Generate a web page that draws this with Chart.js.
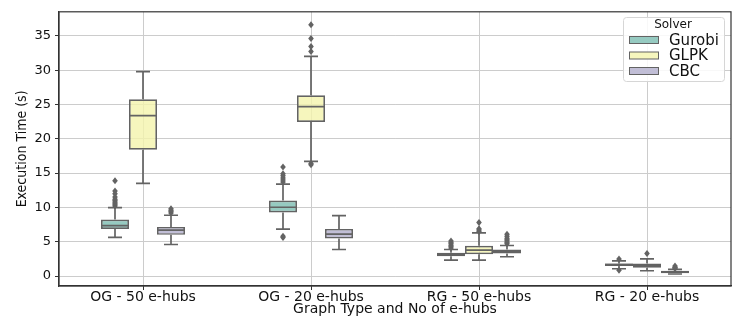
<!DOCTYPE html>
<html>
<head>
<meta charset="utf-8">
<script src="https://cdn.jsdelivr.net/npm/chart.js@4.4.0/dist/chart.umd.min.js"></script>
<style>
html,body{margin:0;padding:0;background:#fff;}
canvas{display:block;}
</style>
</head>
<body>
<canvas id="c" width="747" height="327"></canvas>
<script>
// ---- data ----
const categories = ['OG - 50 e-hubs', 'OG - 20 e-hubs', 'RG - 50 e-hubs', 'RG - 20 e-hubs'];
const solvers = ['Gurobi', 'GLPK', 'CBC'];
const yTicks = [0, 5, 10, 15, 20, 25, 30, 35];

const gurobiQ1  = [6.87, 9.25, 2.90, 1.45];
const gurobiMed = [7.36, 10.02, 3.10, 1.65];
const gurobiQ3  = [8.23, 11.00, 3.39, 1.84];
const gurobiLo  = [5.62, 6.83, 2.32, 1.06];
const gurobiHi  = [9.97, 13.40, 3.87, 2.22];
const gurobiOut = [
  [10.2, 10.4, 10.6, 10.8, 11.0, 11.2, 11.5, 12.0, 12.4, 13.9],
  [13.7, 14.0, 14.3, 14.6, 14.9, 15.9, 5.6, 5.8],
  [4.1, 4.3, 4.5, 4.7, 4.9, 5.1],
  [2.5, 0.85]
];

const glpkQ1  = [18.40, 22.46, 3.19, 1.20];
const glpkMed = [23.38, 24.69, 3.78, 1.55];
const glpkQ3  = [25.75, 26.33, 4.40, 1.84];
const glpkLo  = [13.50, 16.70, 2.32, 0.77];
const glpkHi  = [29.77, 32.00, 6.29, 2.50];
const glpkOut = [
  [],
  [32.7, 33.45, 34.6, 36.6, 16.4, 16.2],
  [6.5, 6.7, 6.9, 7.8],
  [3.29]
];

const cbcQ1  = [6.00, 5.47, 3.29, 0.39];
const cbcMed = [6.68, 6.10, 3.63, 0.55];
const cbcQ3  = [7.16, 6.87, 3.87, 0.77];
const cbcLo  = [4.60, 3.87, 2.81, 0.30];
const cbcHi  = [8.86, 8.80, 4.45, 0.97];
const cbcOut = [
  [9.2, 9.4, 9.6, 9.8],
  [],
  [4.7, 4.9, 5.1, 5.3, 5.5, 5.8, 6.1],
  [1.1, 1.2, 1.3, 1.45]
];

// ---- styles ----
const fillColors = ['rgba(124,189,178,0.8)', 'rgba(244,244,173,0.8)', 'rgba(178,174,204,0.8)'];
const legendColors = ['#96cac1', '#f6f6bd', '#c1bed6'];
const edge = '#636363';

const stats = [
  {q1: gurobiQ1, med: gurobiMed, q3: gurobiQ3, lo: gurobiLo, hi: gurobiHi, out: gurobiOut},
  {q1: glpkQ1, med: glpkMed, q3: glpkQ3, lo: glpkLo, hi: glpkHi, out: glpkOut},
  {q1: cbcQ1, med: cbcMed, q3: cbcQ3, lo: cbcLo, hi: cbcHi, out: cbcOut}
];

const boxExtras = {
  id: 'boxExtras',
  afterDatasetsDraw(chart) {
    const ctx = chart.ctx;
    const y = chart.scales.y;
    ctx.save();
    ctx.strokeStyle = edge;
    ctx.lineWidth = 1.7;
    stats.forEach((s, i) => {
      const meta = chart.getDatasetMeta(i);
      meta.data.forEach((el, j) => {
        const x = el.x, w = el.width;
        const l = x - w / 2, r = x + w / 2;
        ctx.beginPath();
        // median
        ctx.moveTo(l, y.getPixelForValue(s.med[j]));
        ctx.lineTo(r, y.getPixelForValue(s.med[j]));
        // upper whisker
        ctx.moveTo(x, y.getPixelForValue(s.q3[j]));
        ctx.lineTo(x, y.getPixelForValue(s.hi[j]));
        ctx.moveTo(x - w / 4, y.getPixelForValue(s.hi[j]));
        ctx.lineTo(x + w / 4, y.getPixelForValue(s.hi[j]));
        // lower whisker
        ctx.moveTo(x, y.getPixelForValue(s.q1[j]));
        ctx.lineTo(x, y.getPixelForValue(s.lo[j]));
        ctx.moveTo(x - w / 4, y.getPixelForValue(s.lo[j]));
        ctx.lineTo(x + w / 4, y.getPixelForValue(s.lo[j]));
        ctx.stroke();
        // outliers (thin diamonds)
        ctx.fillStyle = edge;
        s.out[j].forEach(v => {
          const py = y.getPixelForValue(v);
          ctx.beginPath();
          ctx.moveTo(x, py - 3.5);
          ctx.lineTo(x + 2.8, py);
          ctx.lineTo(x, py + 3.5);
          ctx.lineTo(x - 2.8, py);
          ctx.closePath();
          ctx.fill();
        });
      });
    });
    ctx.restore();
  },
  afterDraw(chart) {
    const ctx = chart.ctx;
    const a = chart.chartArea;
    ctx.save();
    // frame
    ctx.strokeStyle = '#333';
    ctx.lineWidth = 1.2;
    ctx.strokeRect(a.left, a.top, a.right - a.left, a.bottom - a.top);
    // legend
    const lx = 623, ly = 17, lw = 101, lh = 64;
    ctx.beginPath();
    ctx.roundRect(lx + 0.5, ly + 0.5, lw, lh, 3);
    ctx.fillStyle = 'rgba(255,255,255,0.85)';
    ctx.fill();
    ctx.strokeStyle = '#d6d6d6';
    ctx.lineWidth = 1;
    ctx.stroke();
    ctx.fillStyle = '#111';
    ctx.textAlign = 'center';
    ctx.textBaseline = 'middle';
    ctx.font = '12px "DejaVu Sans"';
    ctx.fillText('Solver', lx + 50, ly + 8);
    ctx.textAlign = 'left';
    ctx.font = '15px "DejaVu Sans"';
    solvers.forEach((s, i) => {
      const cy = ly + 23 + i * 15.5;
      ctx.fillStyle = legendColors[i];
      ctx.fillRect(lx + 6, cy - 3.5, 30, 7);
      ctx.strokeStyle = edge;
      ctx.lineWidth = 1;
      ctx.strokeRect(lx + 6.5, cy - 3.5, 29, 7);
      ctx.fillStyle = '#111';
      ctx.fillText(s, lx + 46, cy + 1);
    });
    ctx.restore();
  }
};

new Chart(document.getElementById('c'), {
  type: 'bar',
  data: {
    labels: categories,
    datasets: solvers.map((s, i) => ({
      label: s,
      data: categories.map((c, j) => [stats[i].q1[j], stats[i].q3[j]]),
      backgroundColor: fillColors[i],
      borderColor: edge,
      borderWidth: 1.7,
      borderSkipped: false,
      categoryPercentage: 0.5,
      barPercentage: 1.0
    }))
  },
  options: {
    responsive: false,
    animation: false,
    devicePixelRatio: 1,
    layout: {padding: {top: 11, right: 16, left: 0, bottom: 0}},
    plugins: {legend: {display: false}, tooltip: {enabled: false}},
    scales: {
      x: {
        grid: {offset: false, color: '#cccccc', lineWidth: 1, tickLength: 4, tickColor: '#333'},
        border: {display: true, color: '#333', width: 1.2},
        ticks: {font: {family: 'DejaVu Sans', size: 14}, color: '#111', padding: -1},
        title: {display: true, text: 'Graph Type and No of e-hubs', color: '#111',
                font: {family: 'DejaVu Sans', size: 14}, padding: {top: 0, bottom: 9}},
        afterFit: s => { s.height = 41; }
      },
      y: {
        min: -1.45,
        max: 38.5,
        afterBuildTicks: s => { s.ticks = yTicks.map(v => ({value: v})); },
        grid: {color: '#cccccc', lineWidth: 1, tickLength: 4, tickColor: '#333'},
        border: {display: true, color: '#333', width: 1.2},
        ticks: {font: {family: 'DejaVu Sans', size: 13}, color: '#111', padding: 4},
        title: {display: true, text: 'Execution Time (s)', color: '#111',
                font: {family: '"Liberation Sans Narrow", "DejaVu Sans Condensed", "Liberation Sans"', size: 14},
                padding: {top: 14, bottom: 0}},
        afterFit: s => { s.width = 59; }
      }
    }
  },
  plugins: [boxExtras]
});
</script>
</body>
</html>
